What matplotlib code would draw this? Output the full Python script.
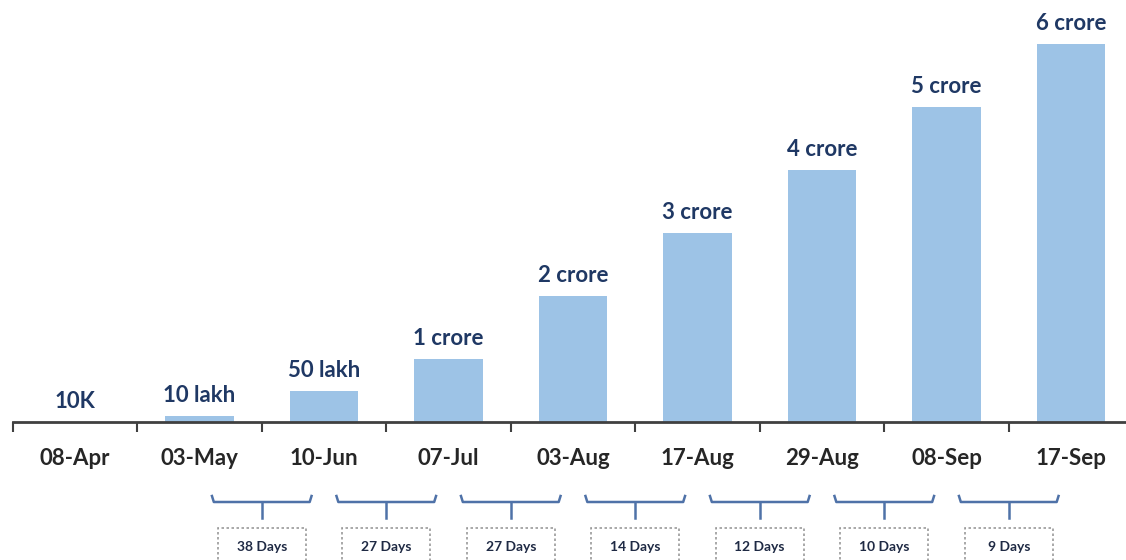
import matplotlib.pyplot as plt
from matplotlib.patches import Rectangle
from matplotlib.transforms import blended_transform_factory

plt.rcParams['font.family'] = ['Lato', 'DejaVu Sans']

# data
dates = ['08-Apr', '03-May', '10-Jun', '07-Jul', '03-Aug', '17-Aug', '29-Aug', '08-Sep', '17-Sep']
crore = [0.001, 0.1, 0.5, 1, 2, 3, 4, 5, 6]
labels = ['10K', '10 lakh', '50 lakh', '1 crore', '2 crore', '3 crore', '4 crore', '5 crore', '6 crore']
gaps = ['38 Days', '27 Days', '27 Days', '14 Days', '12 Days', '10 Days', '9 Days']

W, H = 1126, 560
fig = plt.figure(figsize=(W / 100, H / 100), dpi=100)
ax = fig.add_axes([0, 0, 1, 1])

step = 124.5          # px per category
x0 = 75               # px centre of first category
base = 138            # px of axis line from bottom
ppc = 63              # px per crore

ax.set_xlim(-x0 / step, (W - x0) / step)
ax.set_ylim(-base / ppc, (H - base) / ppc)

xs = list(range(len(dates)))
ax.bar(xs, crore, width=0.55, color='#9DC3E6', zorder=2)

for x, v, t in zip(xs, crore, labels):
    ax.annotate(t, (x, v), xytext=(0, 7), textcoords='offset points',
                ha='center', va='bottom', fontsize=16, fontweight='bold', color='#1F3864')

# axis line
for s in ['top', 'right', 'left']:
    ax.spines[s].set_visible(False)
ax.spines['bottom'].set_position(('data', 0))
ax.spines['bottom'].set_bounds(-0.5, (W - x0) / step)
ax.spines['bottom'].set_color('#404040')
ax.spines['bottom'].set_linewidth(2)
ax.spines['bottom'].set_zorder(3)
ax.set_xticks([i - 0.5 for i in range(len(dates))])
ax.set_xticklabels([])
ax.tick_params(axis='x', which='major', direction='out', length=7, width=1.5, color='#404040')
ax.set_xticks(xs, minor=True)
ax.set_xticklabels(dates, minor=True, fontsize=16, fontweight='bold', color='#262626')
ax.tick_params(axis='x', which='minor', length=0, pad=19)
ax.set_yticks([])

# brackets with day gaps
tr = blended_transform_factory(ax.transData, ax.transAxes)
bc = '#4F72A8'
for i, g in enumerate(gaps):
    c = i + 1.5
    hw = 0.4
    y = 58 / H
    up = 64 / H
    ax.plot([c - hw, c - hw + 0.015, c + hw - 0.015, c + hw], [up, y, y, up],
            transform=tr, color=bc, lw=1.8, clip_on=False)
    ax.plot([c, c], [y, 42 / H], transform=tr, color=bc, lw=1.8, clip_on=False)
    ax.add_patch(Rectangle((c - 0.355, -20 / H), 0.71, 52 / H, transform=tr,
                           fill=False, ec='#9A9A9A', lw=1.2, ls=(0, (1.5, 1.5)), clip_on=False))
    ax.text(c, 13 / H, g, transform=tr, ha='center', va='center',
            fontsize=10, fontweight='bold', color='#1F2A44')

fig.savefig('out.png', dpi=100)
